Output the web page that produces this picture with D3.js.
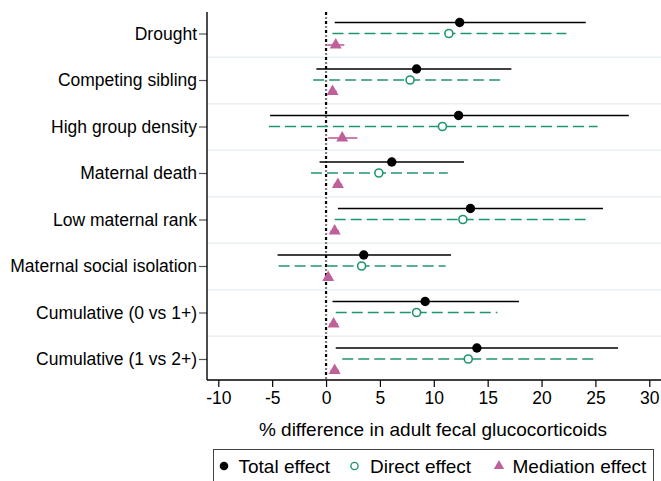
<!DOCTYPE html>
<html><head><meta charset="utf-8">
<script src="https://cdn.jsdelivr.net/npm/d3@7/dist/d3.min.js"></script>
<style>body{margin:0;background:#fff}svg{display:block;font-family:"Liberation Sans",Arial,sans-serif}</style>
</head><body><svg id="c" width="661" height="481"></svg>
<script>
const categories = ["Drought","Competing sibling","High group density","Maternal death","Low maternal rank","Maternal social isolation","Cumulative (0 vs 1+)","Cumulative (1 vs 2+)"];
const totalEst = [12.4, 8.4, 12.3, 6.1, 13.4, 3.5, 9.2, 14.0];
const totalLo  = [0.8, -0.9, -5.2, -0.6, 1.1, -4.5, 0.6, 0.9];
const totalHi  = [24.1, 17.2, 28.1, 12.8, 25.7, 11.6, 17.9, 27.1];
const directEst = [11.4, 7.8, 10.8, 4.9, 12.7, 3.3, 8.4, 13.2];
const directLo  = [0.6, -1.2, -5.3, -1.4, 0.8, -4.4, 0.9, 1.5];
const directHi  = [22.3, 16.3, 25.2, 11.3, 24.2, 11.1, 15.9, 24.9];
const medEst = [0.9, 0.6, 1.5, 1.1, 0.8, 0.2, 0.7, 0.8];
const medLo  = [0.1, 0.3, 0.2, 0.7, 0.4, 0.0, 0.3, 0.4];
const medHi  = [1.7, 1.0, 2.9, 1.5, 1.2, 0.5, 1.1, 1.2];
const xTicks = [-10,-5,0,5,10,15,20,25,30];

const svg = d3.select("#c");
const L = 207, R = 661, T = 12, B = 380;
const x = d3.scaleLinear().domain([-10,30]).range([218.3,649.3]);
const y = d3.scalePoint().domain(categories).range([33.5,359]);
const step = y.step();
const green = "#1f966a", pink = "#c0609b";
const FF = "Liberation Sans, Arial, sans-serif";

// grid lines between categories
svg.append("g").selectAll("line").data(categories.slice(1)).join("line")
  .attr("x1", L).attr("x2", R)
  .attr("y1", d => y(d) - step/2 + 0.5).attr("y2", d => y(d) - step/2 + 0.5)
  .attr("stroke", "#eaf0f3").attr("stroke-width", 1.5);

// zero line
svg.append("line").attr("x1", x(0)).attr("x2", x(0)).attr("y1", T).attr("y2", B)
  .attr("stroke", "#000").attr("stroke-width", 2.2).attr("stroke-dasharray", "3,2.5,1,2.5");

const idx = d3.range(categories.length);
const offT = -11, offD = 0, offM = 11.5;

// total effect
svg.append("g").selectAll("line").data(idx).join("line")
  .attr("x1", i => x(totalLo[i])).attr("x2", i => x(totalHi[i]))
  .attr("y1", i => y(categories[i]) + offT).attr("y2", i => y(categories[i]) + offT)
  .attr("stroke", "#000").attr("stroke-width", 1.6);
// direct effect
svg.append("g").selectAll("line").data(idx).join("line")
  .attr("x1", i => x(directLo[i])).attr("x2", i => x(directHi[i]))
  .attr("y1", i => y(categories[i]) + offD).attr("y2", i => y(categories[i]) + offD)
  .attr("stroke", green).attr("stroke-width", 1.6).attr("stroke-dasharray", "11,5");
// mediation
svg.append("g").selectAll("line").data(idx).join("line")
  .attr("x1", i => x(medLo[i])).attr("x2", i => x(medHi[i]))
  .attr("y1", i => y(categories[i]) + offM).attr("y2", i => y(categories[i]) + offM)
  .attr("stroke", pink).attr("stroke-width", 1.6);

svg.append("g").selectAll("circle").data(idx).join("circle")
  .attr("cx", i => x(totalEst[i])).attr("cy", i => y(categories[i]) + offT).attr("r", 4.7)
  .attr("fill", "#000");
svg.append("g").selectAll("circle").data(idx).join("circle")
  .attr("cx", i => x(directEst[i])).attr("cy", i => y(categories[i]) + offD).attr("r", 4)
  .attr("fill", "#fff").attr("stroke", green).attr("stroke-width", 1.6);
const tri = d3.symbol().type(d3.symbolTriangle).size(62);
svg.append("g").selectAll("path").data(idx).join("path")
  .attr("d", tri)
  .attr("transform", i => `translate(${x(medEst[i])},${y(categories[i]) + offM})`)
  .attr("fill", pink);

// axes
const xa = svg.append("g").attr("transform", `translate(0,${B})`)
  .call(d3.axisBottom(x).tickValues(xTicks).tickFormat(d => String(d)).tickSize(7).tickSizeOuter(0));
xa.select(".domain").remove();
xa.selectAll("line").attr("stroke", "#000").attr("stroke-width", 1.2);
xa.selectAll("text").attr("font-size", 17.5).attr("font-family", FF).attr("fill", "#000").attr("dy", "0.71em").attr("y", 12);
svg.append("line").attr("x1", L).attr("x2", R).attr("y1", B).attr("y2", B).attr("stroke", "#000").attr("stroke-width", 1.4);

const ya = svg.append("g").attr("transform", `translate(${L},0)`)
  .call(d3.axisLeft(y).tickSize(8).tickSizeOuter(0));
ya.select(".domain").remove();
ya.selectAll("line").attr("stroke", "#555").attr("stroke-width", 1.2);
ya.selectAll("text").attr("font-size", 17.5).attr("font-family", FF).attr("fill", "#000").attr("x", -10);
svg.append("line").attr("x1", L).attr("x2", L).attr("y1", T).attr("y2", B).attr("stroke", "#000").attr("stroke-width", 1.4);

svg.append("text").attr("x", 433).attr("y", 436).attr("text-anchor", "middle")
  .attr("font-size", 19).text("% difference in adult fecal glucocorticoids");

// legend
const lg = svg.append("g").attr("font-size", 19);
lg.append("rect").attr("x", 213.5).attr("y", 449.5).attr("width", 440).attr("height", 40)
  .attr("fill", "#fff").attr("stroke", "#444").attr("stroke-width", 1);
lg.append("circle").attr("cx", 224).attr("cy", 466).attr("r", 4.3).attr("fill", "#000");
lg.append("text").attr("x", 238.5).attr("y", 472.5).text("Total effect");
lg.append("circle").attr("cx", 354.5).attr("cy", 466).attr("r", 3.6).attr("fill", "#fff").attr("stroke", green).attr("stroke-width", 1.4);
lg.append("text").attr("x", 370).attr("y", 472.5).text("Direct effect");
lg.append("path").attr("d", d3.symbol().type(d3.symbolTriangle).size(46))
  .attr("transform", "translate(499,466)").attr("fill", pink);
lg.append("text").attr("x", 512.5).attr("y", 472.5).text("Mediation effect");
</script></body></html>
